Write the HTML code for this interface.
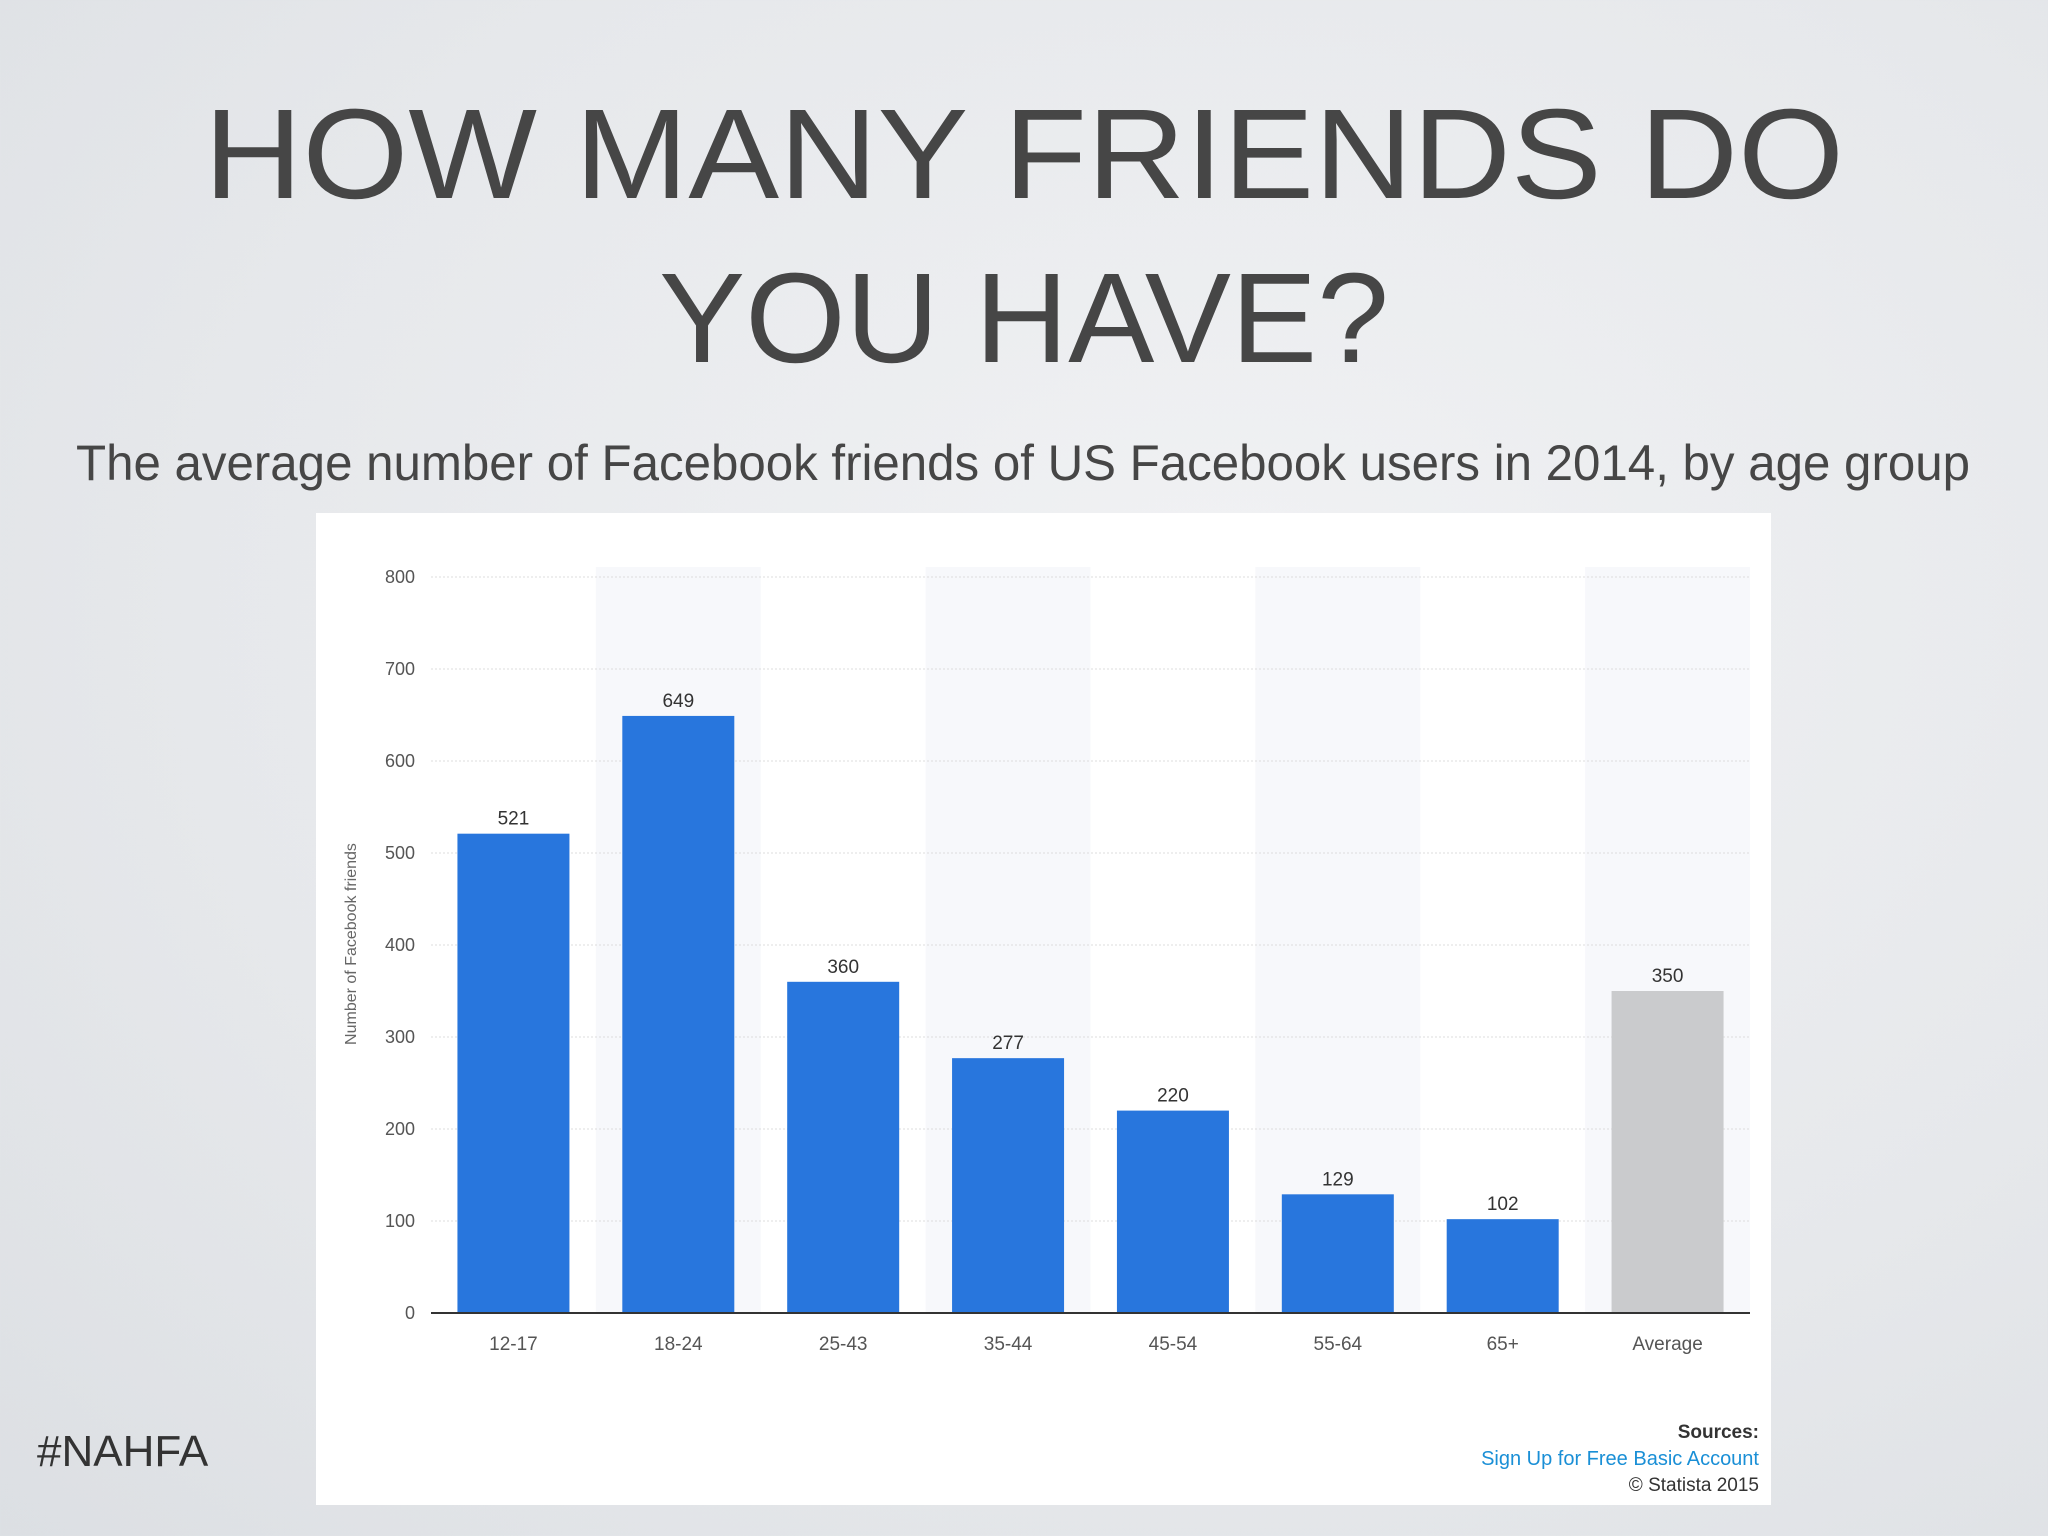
<!DOCTYPE html>
<html><head><meta charset="utf-8"><style>
html,body{margin:0;padding:0;width:2048px;height:1536px;overflow:hidden}
body{background:radial-gradient(ellipse at 60% 40%,#f1f2f4 0%,#e6e8eb 60%,#dcdfe3 100%);font-family:"Liberation Sans",sans-serif}
</style></head><body>
<svg id="page" width="2048" height="1536" xmlns="http://www.w3.org/2000/svg" font-family="Liberation Sans, sans-serif">
<text x="1024" y="198" text-anchor="middle" font-size="128" fill="#464646" textLength="1640" lengthAdjust="spacingAndGlyphs">HOW MANY FRIENDS DO</text>
<text x="1024" y="362" text-anchor="middle" font-size="128" fill="#464646" textLength="730" lengthAdjust="spacingAndGlyphs">YOU HAVE?</text>
<text x="76" y="480" font-size="50" fill="#464646" textLength="1894" lengthAdjust="spacingAndGlyphs">The average number of Facebook friends of US Facebook users in 2014, by age group</text>
<rect x="316" y="513" width="1455" height="992" fill="#fff"/>
<g id="chart"></g>
<text x="1759" y="1438" text-anchor="end" font-size="19" font-weight="bold" fill="#333">Sources:</text>
<text x="1759" y="1465" text-anchor="end" font-size="20" fill="#1a8fd6">Sign Up for Free Basic Account</text>
<text x="1759" y="1491" text-anchor="end" font-size="19" fill="#333">© Statista 2015</text>
<text x="37" y="1466" font-size="44" fill="#333">#NAHFA</text>
</svg>
<script>
const categories=["12-17","18-24","25-43","35-44","45-54","55-64","65+","Average"];
const values=[521,649,360,277,220,129,102,350];
const yTicks=[0,100,200,300,400,500,600,700,800];
const NS="http://www.w3.org/2000/svg";
const g=document.getElementById("chart");
const x0=431,x1=1750,yBase=1313,yTop=577,yMax=800;
const slot=(x1-x0)/categories.length;
const y=v=>yBase-(v/yMax)*(yBase-yTop);
const xc=i=>x0+slot*(i+0.5);
function mk(tag,attrs){const e=document.createElementNS(NS,tag);for(const k in attrs)e.setAttribute(k,attrs[k]);g.appendChild(e);return e;}
categories.forEach((c,i)=>{if(i%2===1){const b=mk("rect",{x:x0+slot*i,y:yTop-10,width:slot,height:yBase-yTop+10,fill:"#f7f8fb"});

}});
yTicks.forEach(t=>{
 if(t>0){const l=mk("line",{x1:x0,x2:x1,y1:y(t),y2:y(t),stroke:"#dcdcdc","stroke-dasharray":"2,2"});
 
 }
 const tx=mk("text",{x:415,y:y(t)+6,"text-anchor":"end","font-size":"18",fill:"#555"});tx.textContent=t;
 
 
});
const bw=112;
categories.forEach((c,i)=>{
 const r=mk("rect",{x:xc(i)-bw/2,y:y(values[i]),width:bw,height:yBase-y(values[i]),fill:i===categories.length-1?"#cacbcd":"#2876dd"});
 
 
 const v=mk("text",{x:xc(i),y:y(values[i])-9,"text-anchor":"middle","font-size":"19",fill:"#333"});v.textContent=values[i];
 
 
 const cl=mk("text",{x:xc(i),y:1350,"text-anchor":"middle","font-size":"19",fill:"#555"});cl.textContent=c;
 
 
});
const ax=mk("line",{x1:x0,x2:x1,y1:yBase,y2:yBase,stroke:"#333","stroke-width":"2"});


const yt=mk("text",{x:0,y:0,"text-anchor":"middle","font-size":"16",fill:"#666",transform:"translate(356,944) rotate(-90)"});yt.textContent="Number of Facebook friends";


</script>
</body></html>
